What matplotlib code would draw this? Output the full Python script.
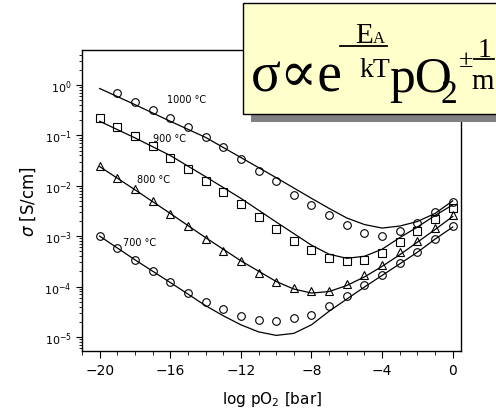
import numpy as np
import matplotlib.pyplot as plt
from matplotlib.patches import Rectangle
from matplotlib.lines import Line2D

x_1000 = list(range(-19, 1))
y_1000 = [-0.165, -0.33, -0.50, -0.65, -0.84, -1.03, -1.24, -1.47, -1.70, -1.91,
          -2.18, -2.38, -2.59, -2.78, -2.94, -2.99, -2.90, -2.74, -2.53, -2.33]
x_900 = list(range(-20, 1))
y_900 = [-0.65, -0.83, -1.01, -1.22, -1.45, -1.67, -1.90, -2.12, -2.36, -2.63, -2.86,
         -3.09, -3.28, -3.43, -3.50, -3.47, -3.33, -3.12, -2.90, -2.66, -2.45]
x_800 = list(range(-20, 1))
y_800 = [-1.60, -1.84, -2.07, -2.30, -2.56, -2.80, -3.05, -3.29, -3.50, -3.73, -3.91,
         -4.03, -4.09, -4.08, -3.95, -3.77, -3.57, -3.32, -3.09, -2.84, -2.59]
x_700 = list(range(-20, 1))
y_700 = [-2.99, -3.24, -3.47, -3.70, -3.91, -4.12, -4.30, -4.44, -4.58, -4.66, -4.68,
         -4.62, -4.56, -4.38, -4.19, -3.98, -3.77, -3.53, -3.31, -3.06, -2.80]

# fitted curves, log10(sigma)
fx_1000 = [-20, -18, -16, -14, -12, -10, -8, -7, -6, -5, -4, -3, -2, -1, 0]
fy_1000 = [-0.07, -0.39, -0.72, -1.04, -1.44, -1.84, -2.25, -2.45, -2.64, -2.77,
           -2.84, -2.80, -2.71, -2.55, -2.30]
fx_900 = [-20, -18, -16, -14, -12, -10, -9, -8, -7, -6, -5, -4, -3, -2, -1, 0]
fy_900 = [-0.72, -1.05, -1.40, -1.82, -2.25, -2.72, -2.95, -3.18, -3.36, -3.44,
          -3.40, -3.26, -3.03, -2.82, -2.59, -2.38]
fx_800 = [-20, -18, -16, -14, -12, -10, -9, -8, -7, -6, -5, -4, -3, -2, -1, 0]
fy_800 = [-1.62, -2.08, -2.55, -3.03, -3.49, -3.90, -4.05, -4.13, -4.10, -3.98,
          -3.81, -3.60, -3.37, -3.12, -2.87, -2.61]
fx_700 = [-20, -18, -16, -14, -13, -12, -11, -10, -9, -8, -7, -6, -5, -4, -3, -2, -1, 0]
fy_700 = [-3.00, -3.47, -3.92, -4.38, -4.58, -4.76, -4.90, -4.97, -4.93, -4.76,
          -4.49, -4.25, -4.01, -3.78, -3.55, -3.32, -3.06, -2.82]

labels = ['1000 °C', '900 °C', '800 °C', '700 °C']
label_x = [-16.2, -17.0, -17.9, -18.7]
label_y = [-0.28, -1.05, -1.87, -3.11]

W, H = 496, 414
fig = plt.figure(figsize=(W / 100, H / 100), dpi=100)
ax = fig.add_axes([82 / W, 1 - 352 / H, (461 - 82) / W, (352 - 51) / H])

series = [(x_1000, y_1000, 'o'), (x_900, y_900, 's'), (x_800, y_800, '^'), (x_700, y_700, 'o')]
for xs, ys, m in series:
    ax.plot(xs, 10 ** np.array(ys), m, mfc='none', mec='black', ms=5.5, mew=0.8)

fits = [(fx_1000, fy_1000), (fx_900, fy_900), (fx_800, fy_800), (fx_700, fy_700)]
for xs, ys in fits:
    ax.plot(xs, 10 ** np.array(ys), '-', color='black', lw=0.9)

for t, lx, ly in zip(labels, label_x, label_y):
    ax.text(lx, 10 ** ly, t, fontsize=7, va='center', ha='left')

ax.set_yscale('log')
ax.set_xlim(-21.0, 0.47)
ax.set_ylim(10 ** -5.28, 10 ** 0.694)
ax.set_xticks([-20, -16, -12, -8, -4, 0])
ax.set_xticks(range(-21, 1), minor=True)
ax.set_yticks([1, 1e-1, 1e-2, 1e-3, 1e-4, 1e-5])
ax.tick_params(axis='x', which='major', labelsize=10, length=5, direction='out')
ax.tick_params(axis='x', which='minor', length=3, direction='out')
ax.tick_params(axis='y', which='major', labelsize=8, length=4, direction='out')
ax.tick_params(axis='y', which='minor', length=2, direction='out')
for s in ax.spines.values():
    s.set_linewidth(1.0)

ax.set_xlabel('log pO$_2$ [bar]', fontsize=11)
ax.set_ylabel(r'$\sigma$ [S/cm]', fontsize=12)
ax.xaxis.set_label_coords(0.5, (352 - 390) / (352 - 51))
ax.yaxis.set_label_coords((38 - 82) / (461 - 82), 0.5)


def px(x, y):
    return x / W, 1 - y / H


# formula box with shadow
serif = ['Liberation Serif', 'DejaVu Serif']
fig.patches.append(Rectangle(px(251, 123), 260 / W, 113 / H, transform=fig.transFigure,
                             facecolor='#808080', edgecolor='none', zorder=5))
fig.patches.append(Rectangle(px(243, 115), 260 / W, 111 / H, transform=fig.transFigure,
                             facecolor='#ffffcc', edgecolor='black', lw=1.0, zorder=6))

fig.text(*px(251, 92), 'σ∝e', family=serif, fontsize=40, va='baseline', zorder=7)
fig.add_artist(Line2D([340 / W, 387 / W], [1 - 47 / H, 1 - 47 / H], transform=fig.transFigure,
                      color='black', lw=1.3, zorder=7))
fig.text(*px(355, 43), 'E', family=serif, fontsize=21, va='baseline', zorder=7)
fig.text(*px(373, 43), 'A', family=serif, fontsize=12, va='baseline', zorder=7)
fig.text(*px(360, 77), 'kT', family=serif, fontsize=20, va='baseline', zorder=7)
fig.text(*px(389, 92), 'pO', family=serif, fontsize=37, va='baseline', zorder=7)
fig.text(*px(440, 103), '2', family=serif, fontsize=24, va='baseline', zorder=7)
fig.text(*px(459, 67), '±', family=serif, fontsize=19, va='baseline', zorder=7)
fig.add_artist(Line2D([474 / W, 494 / W], [1 - 60 / H, 1 - 60 / H], transform=fig.transFigure,
                      color='black', lw=1.3, zorder=7))
fig.text(*px(478, 57), '1', family=serif, fontsize=20, va='baseline', zorder=7)
fig.text(*px(471, 89), 'm', family=serif, fontsize=21, va='baseline', zorder=7)

fig.savefig('out.png', dpi=100)
